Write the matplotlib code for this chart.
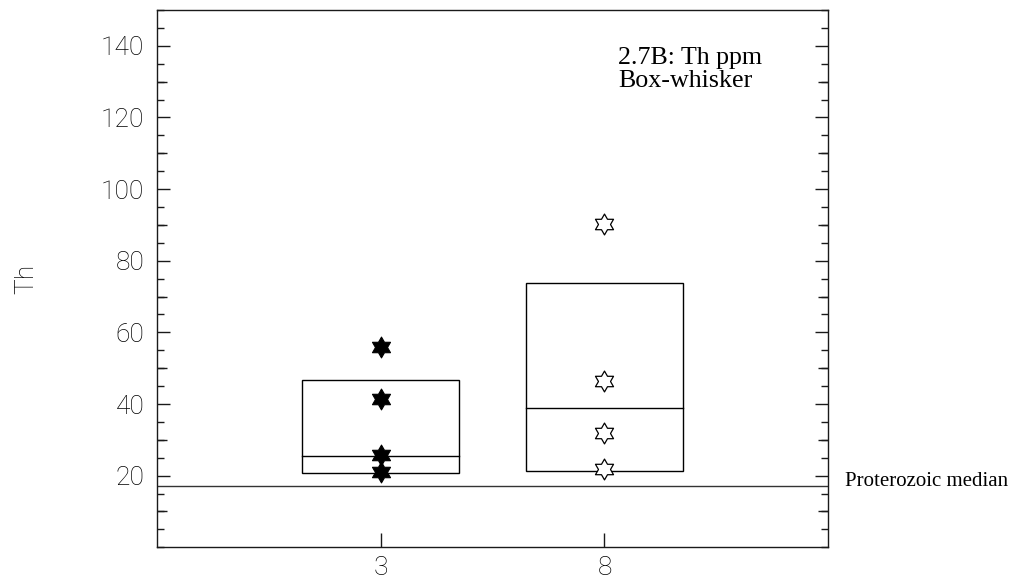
import numpy as np
import matplotlib
matplotlib.use("Agg")
import matplotlib.pyplot as plt
from matplotlib.path import Path
from matplotlib.ticker import MultipleLocator, FixedLocator, NullLocator
from matplotlib.font_manager import FontProperties

# Category labels and box statistics (lower quartile, median, upper quartile)
groups = ["3", "8"]
box_low = [20.7, 21.4]
box_med = [25.6, 39.0]
box_high = [46.7, 73.7]

# Individual sample values per group
samples_3 = [55.9, 41.5, 25.9, 21.0]
samples_8 = [90.3, 46.3, 31.9, 22.0]

proterozoic_median = 17.0

# Six-pointed star marker (hexagram)
angles = np.deg2rad(np.arange(12) * 30 + 90)
radii = np.where(np.arange(12) % 2 == 0, 1.0, 1.0 / np.sqrt(3))
verts = np.column_stack([radii * np.cos(angles), radii * np.sin(angles)])
verts = np.vstack([verts, verts[:1]])
codes = [Path.MOVETO] + [Path.LINETO] * 11 + [Path.CLOSEPOLY]
hexagram = Path(verts, codes)

tick_font = dict(family=["Roboto", "DejaVu Sans"], weight="light", size=19)
serif = ["Liberation Serif", "DejaVu Serif"]
ink = "#1a1a1a"

fig = plt.figure(figsize=(10.17, 5.82), dpi=100)
rect = [0.1541, 0.0596, 0.6604, 0.9232]
ax = fig.add_axes(rect)

positions = np.arange(1, len(groups) + 1)
lw = 1.0
for pos, lo, med, hi in zip(positions, box_low, box_med, box_high):
    ax.add_patch(plt.Rectangle((pos - 0.35, lo), 0.7, hi - lo, fill=False,
                               edgecolor="black", linewidth=lw, zorder=2))
    ax.plot([pos - 0.35, pos + 0.35], [med, med], color="black", lw=lw, zorder=2)

ax.plot([positions[0]] * len(samples_3), samples_3, linestyle="none",
        marker=hexagram, markersize=15, markerfacecolor="black",
        markeredgecolor="black", markeredgewidth=0.8, zorder=3)
ax.plot([positions[1]] * len(samples_8), samples_8, linestyle="none",
        marker=hexagram, markersize=15, markerfacecolor="white",
        markeredgecolor="black", markeredgewidth=0.9, zorder=3)

ax.axhline(proterozoic_median, color="#333333", lw=lw, zorder=1)
ax.text(1.025, proterozoic_median, "Proterozoic median",
        transform=ax.get_yaxis_transform(), ha="left", va="baseline",
        family=serif, size=15, clip_on=False)

ax.text(0.687, 0.8995, "2.7B: Th ppm", transform=ax.transAxes,
        ha="left", va="baseline", family=serif, size=18.7)
ax.text(0.687, 0.857, "Box-whisker", transform=ax.transAxes,
        ha="left", va="baseline", family=serif, size=18.7)

ax.set_xlim(0, 3)
ax.set_ylim(0, 150)
ax.set_xticks(positions)
ax.set_xticklabels(groups)
ax.yaxis.set_major_locator(FixedLocator([20, 40, 60, 80, 100, 120, 140]))
ax.yaxis.set_minor_locator(MultipleLocator(5))

for sp in ax.spines.values():
    sp.set_linewidth(lw)
    sp.set_color(ink)

ax.tick_params(axis="y", which="major", direction="in", left=True, right=True,
               length=9.5, width=lw, pad=9, color=ink, labelcolor="black")
ax.tick_params(axis="y", which="minor", direction="in", left=True, right=True,
               length=5, width=lw, color=ink)
ax.tick_params(axis="x", which="major", direction="in", bottom=True, top=False,
               length=10, width=lw, pad=6, color=ink, labelcolor="black")
ax.tick_params(axis="x", which="minor", bottom=False, top=False)
for lab in ax.get_xticklabels() + ax.get_yticklabels():
    lab.set_fontproperties(FontProperties(**tick_font))

ax.set_ylabel("Th", fontdict=tick_font, color="black")
ax.yaxis.set_label_coords(-0.176, 0.5)

# Intermediate-length ticks every 10 units on both sides (separate overlay axes)
mid = fig.add_axes(rect, frameon=False)
mid.set_xlim(0, 3)
mid.set_ylim(0, 150)
mid.set_xticks([])
mid.yaxis.set_major_locator(FixedLocator([10, 30, 50, 70, 90, 110, 130]))
mid.yaxis.set_minor_locator(NullLocator())
mid.tick_params(axis="y", direction="in", left=True, right=True,
                labelleft=False, labelright=False, length=7.2, width=lw,
                color=ink)
mid.patch.set_visible(False)

fig.savefig("out.png", dpi=100)
